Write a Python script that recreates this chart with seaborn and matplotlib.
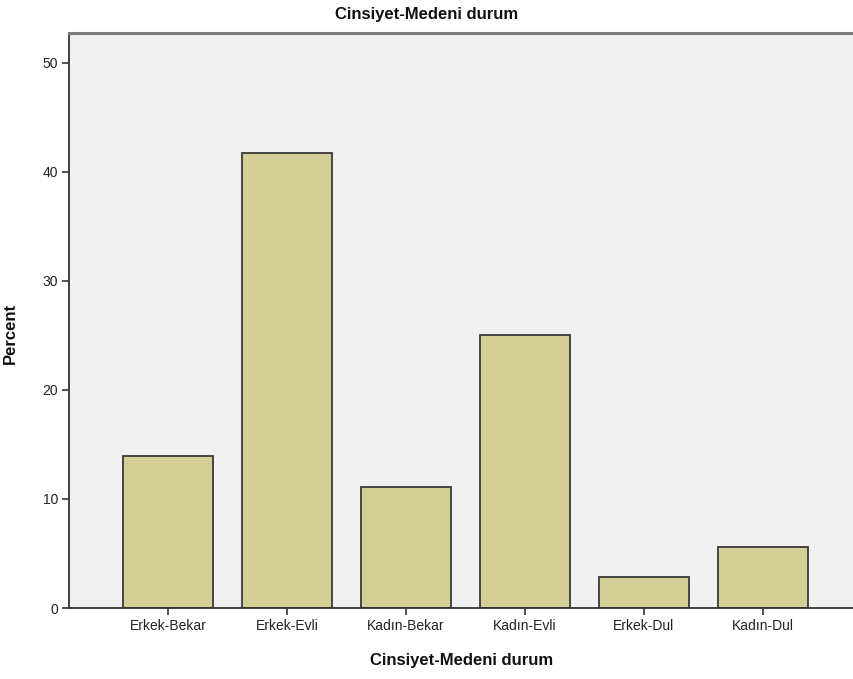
import matplotlib
matplotlib.use("Agg")
import matplotlib.pyplot as plt
import seaborn as sns
import pandas as pd

categories = ["Erkek-Bekar", "Erkek-Evli", "Kadın-Bekar", "Kadın-Evli", "Erkek-Dul", "Kadın-Dul"]
percent = [13.9, 41.7, 11.1, 25.0, 2.8, 5.6]
yticks = [0, 10, 20, 30, 40, 50]

df = pd.DataFrame({"cat": categories, "pct": percent})

sns.set_theme(style="white")
plt.rcParams["font.family"] = ["Liberation Sans", "DejaVu Sans"]

fig = plt.figure(figsize=(8.54, 6.79), dpi=100)
W, H = 854, 679
ax = fig.add_axes([69 / W, (H - 608) / H, (854 - 69) / W, (608 - 33) / H])
ax.set_facecolor("#f0f0f0")

sns.barplot(data=df, x="cat", y="pct", order=categories, color="#d3cf97",
            saturation=1, width=0.755, edgecolor="#3a3a3a", linewidth=1.3, ax=ax)

ax.set_xlim(-0.832, 5.765)
ax.set_ylim(0, 52.75)
ax.set_yticks(yticks)
ax.set_yticklabels([str(v) for v in yticks])
ax.tick_params(axis="both", direction="out", length=5, width=1.2, color="#333333",
               labelsize=10, labelcolor="#222222", pad=3, left=True, bottom=True)

for s in ["left", "bottom"]:
    ax.spines[s].set_color("#333333")
    ax.spines[s].set_linewidth(1.3)
ax.spines["top"].set_color("#7a7a7a")
ax.spines["top"].set_linewidth(2.2)
ax.spines["right"].set_visible(False)

ax.set_xlabel("Cinsiyet-Medeni durum", fontsize=12, fontweight="bold", labelpad=14, color="#111111")
ax.set_ylabel("Percent", fontsize=12, fontweight="bold", color="#111111")
ax.yaxis.set_label_coords((18 - 69) / 785, (608 - 333) / 575)
fig.text(0.5, (H - 15) / H, "Cinsiyet-Medeni durum", ha="center", va="center",
         fontsize=12, fontweight="bold", color="#111111")

fig.savefig("out.png", dpi=100)
